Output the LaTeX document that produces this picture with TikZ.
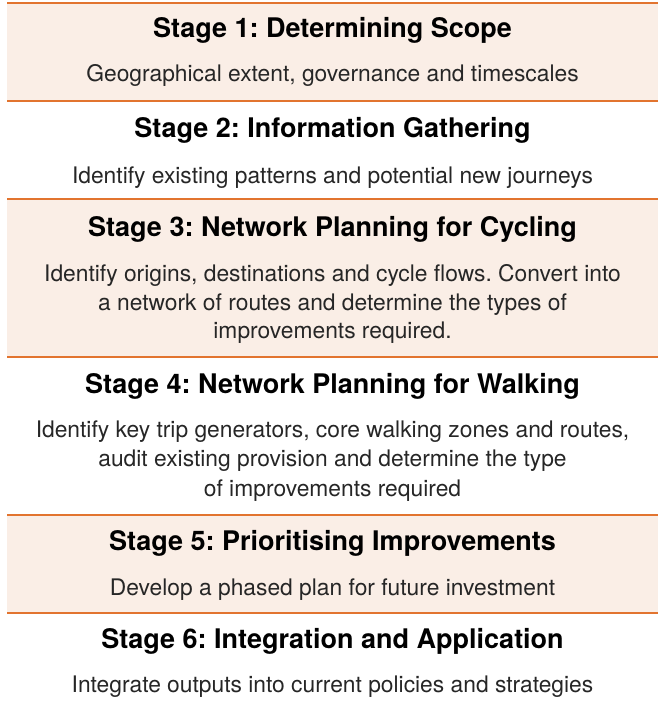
\documentclass[tikz,border=0pt]{standalone}
\usepackage{fontspec}
\setmainfont{TeX Gyre Heros}
\frenchspacing
\definecolor{bandfill}{HTML}{FAEEE6}
\definecolor{bandline}{HTML}{E2742F}
\definecolor{bodytext}{HTML}{262626}
\begin{document}
\begin{tikzpicture}[x=1pt,y=-1pt,
  title/.style={anchor=base,inner sep=0pt,font=\fontsize{27}{32}\selectfont\bfseries\frenchspacing,text=black},
  body/.style={anchor=base,inner sep=0pt,font=\fontsize{22.8}{29}\selectfont\frenchspacing,text=bodytext},
  sepline/.style={draw=bandline,line width=2pt},
  band/.style={fill=bandfill}]
\useasboundingbox (0,0) rectangle (659,709);
% bands
\fill[band] (7,3) rectangle (658,101);
\fill[band] (7,199) rectangle (658,357);
\fill[band] (7,515) rectangle (658,613);
% separator lines
\foreach \yy in {3,101,199,357,515,613}
  \draw[sepline] (7,\yy) -- (658,\yy);
% stage 1
\node[title] (t1) at (332.5,37.5) {Stage 1: Determining Scope};
\node[body] (b1) at (332.5,81.5) {Geographical extent, governance and timescales};
% stage 2
\node[title] (t2) at (332.5,137.5) {Stage 2: Information Gathering};
\node[body] (b2) at (332.5,183) {Identify existing patterns and potential new journeys};
% stage 3
\node[title] (t3) at (332.5,236.5) {Stage 3: Network Planning for Cycling};
\node[body] (b3a) at (332.5,281.5) {Identify origins, destinations and cycle flows. Convert into};
\node[body] (b3b) at (332.5,310) {a network of routes and determine the types of};
\node[body] (b3c) at (332.5,338.5) {improvements required.};
% stage 4
\node[title] (t4) at (332.5,393) {Stage 4: Network Planning for Walking};
\node[body] (b4a) at (332.5,437) {Identify key trip generators, core walking zones and routes,};
\node[body] (b4b) at (332.5,466.5) {audit existing provision and determine the type};
\node[body] (b4c) at (332.5,496) {of improvements required};
% stage 5
\node[title] (t5) at (332.5,550) {Stage 5: Prioritising Improvements};
\node[body] (b5) at (332.5,595) {Develop a phased plan for future investment};
% stage 6
\node[title] (t6) at (332.5,648) {Stage 6: Integration and Application};
\node[body] (b6) at (332.5,692.5) {Integrate outputs into current policies and strategies};
\end{tikzpicture}
\end{document}
